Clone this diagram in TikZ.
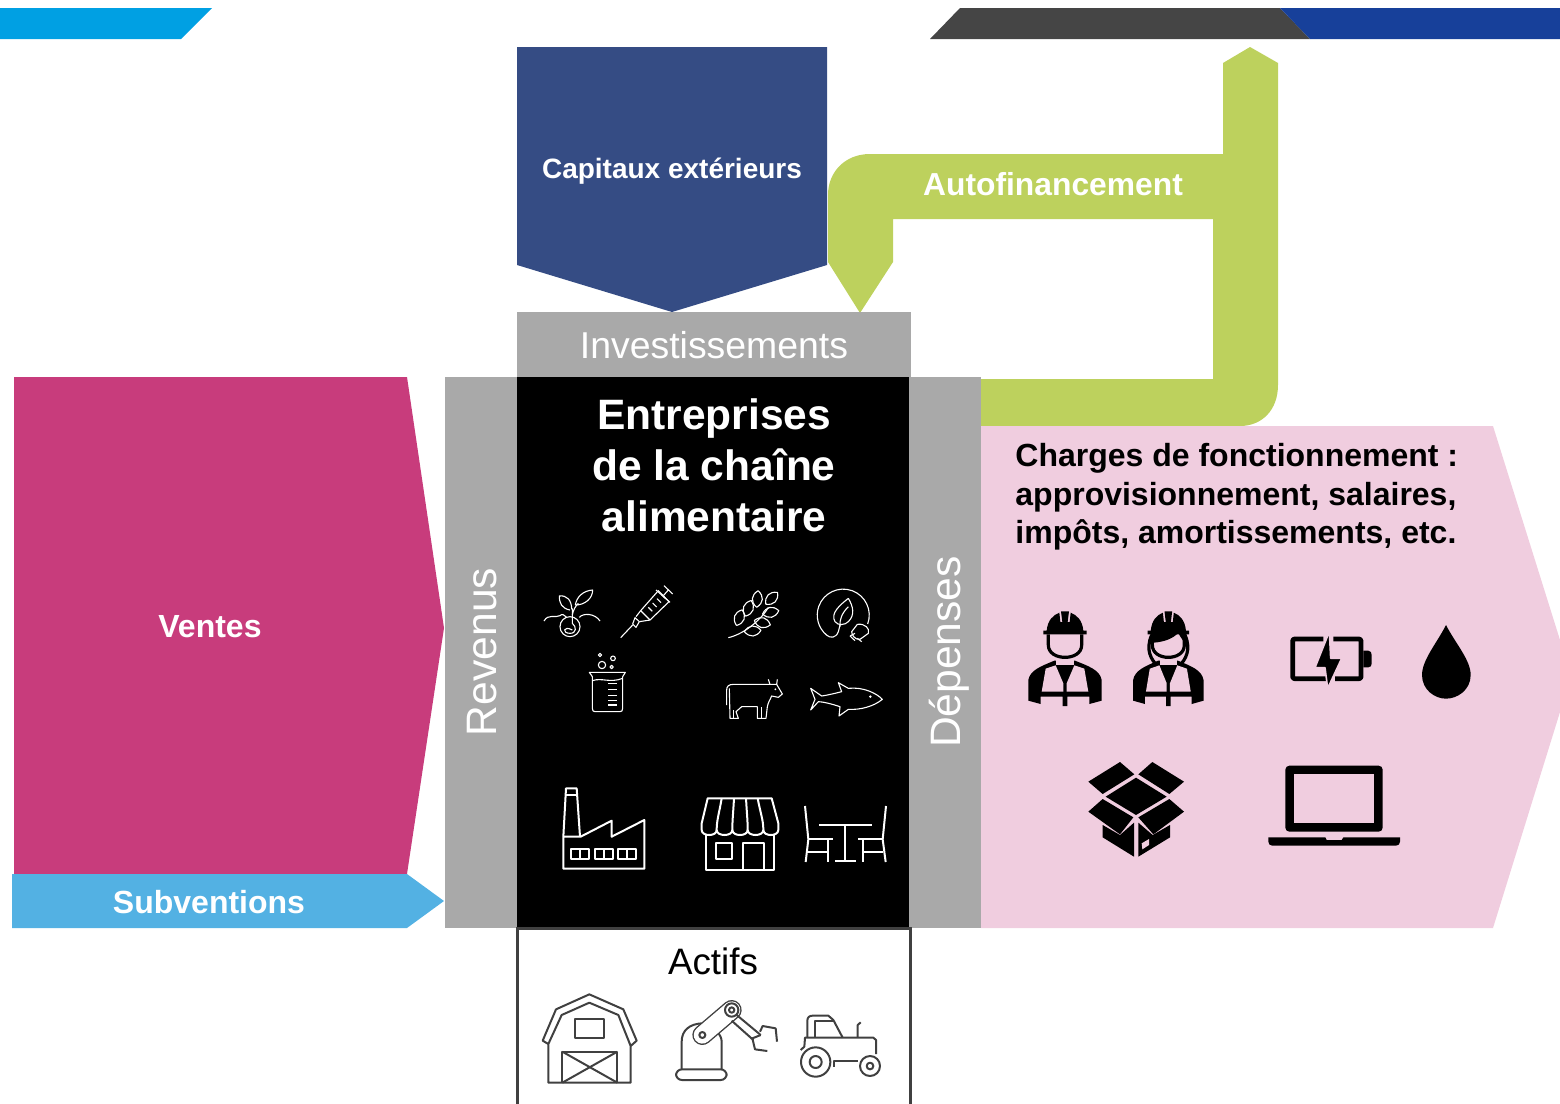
\documentclass[tikz,border=0pt]{standalone}
\usepackage{fontspec}
\setmainfont{Liberation Sans}
\definecolor{cyanbar}{HTML}{00A0E3}
\definecolor{darkbar}{HTML}{454545}
\definecolor{bluebar}{HTML}{17409A}
\definecolor{capitalblue}{HTML}{354C84}
\definecolor{selfgreen}{HTML}{BDD15D}
\definecolor{boxgray}{HTML}{A9A9A9}
\definecolor{salesred}{HTML}{C83C7C}
\definecolor{subsidyblue}{HTML}{53B1E3}
\definecolor{costpink}{HTML}{F0CDDF}
\definecolor{iconline}{HTML}{404040}
\tikzset{
    whitelabel/.style={text=white,font=\fontsize{16}{19}\selectfont\bfseries},
    graylabel/.style={text=white,font=\fontsize{21.3}{25}\selectfont},
    zoomed/.style={x=0.16667pt,y=-0.16667pt},
    leaf/.pic={\draw (-25,0) .. controls (-10,-20) and (10,-20) .. (25,0) .. controls (10,20) and (-10,20) .. (-25,0);},
    worker/.pic={
        \fill (-65,-8) -- (-55,-8) .. controls (-52,-40) and (-35,-55) .. (-17,-62) -- (-14,-34) -- (-8,-34) -- (-12,-66) -- (12,-66) -- (8,-34) -- (14,-34) -- (17,-62) .. controls (35,-55) and (52,-40) .. (55,-8) -- (65,-8) -- (65,3) -- (-65,3) -- cycle;
        \draw[line width=1.6pt] (-50,3) -- (-50,35) .. controls (-50,60) and (-25,72) .. (0,72) .. controls (25,72) and (50,60) .. (50,35) -- (50,3);
        \fill (-110,202) -- (-110,140) .. controls (-105,110) and (-70,98) .. (-32,82) -- (30,82) .. controls (70,98) and (105,110) .. (110,140) -- (110,202) -- (73,212) -- (73,190) -- (7,190) -- (7,218) -- (-7,218) -- (-7,190) -- (-73,190) -- (-73,212) -- cycle;
        \fill[costpink] (-58,106) -- (-28,96) -- (-5,150) -- (-5,175) -- (-70,175) -- cycle;
        \fill[costpink] (58,106) -- (28,96) -- (5,150) -- (5,175) -- (70,175) -- cycle;
        \fill[costpink] (-26,80) -- (26,80) -- (26,94) -- (-26,94) -- cycle;
    }
}
\begin{document}
\begin{tikzpicture}[x=0.5pt,y=-0.5pt]
    \useasboundingbox (0,0) rectangle (1560,1104);

    \fill[cyanbar] (0,8) -- (212,8) -- (181,39) -- (0,39) -- cycle;
    \fill[darkbar] (960,8) -- (1280,8) -- (1310,39) -- (930,39) -- cycle;
    \fill[bluebar] (1280,8) -- (1560,8) -- (1560,39) -- (1310,39) -- cycle;

    \fill[capitalblue] (517,47) -- (827,47) -- (827,265) -- (672,312) -- (517,265) -- cycle;
    \fill[selfgreen] (1250,47) -- (1278,63) -- (1278,385) .. controls (1278,410) and (1262,426) .. (1240,426) -- (981,426) -- (981,379) -- (1213,379) -- (1213,219) -- (893,219) -- (893,262) -- (860,313) -- (828,262) -- (828,195) .. controls (828,172) and (845,154) .. (870,154) -- (1223,154) -- (1223,63) -- cycle;

    \fill[costpink] (981,426) -- (1493,426) -- (1560,640) -- (1560,712) -- (1493,928) -- (981,928) -- cycle;
    \fill[salesred] (14,377) -- (407,377) -- (444,628) -- (407,874) -- (14,874) -- cycle;
    \fill[subsidyblue] (12,874) -- (407,874) -- (444,901) -- (407,928) -- (12,928) -- cycle;

    \fill[boxgray] (517,312) rectangle (911,377);
    \fill[boxgray] (445,377) rectangle (517,928);
    \fill[boxgray] (909,377) rectangle (981,928);
    \fill[black] (517,377) rectangle (909,928);
    \draw[iconline,line width=1.5pt] (517,1104) -- (517,928) -- (910,928) -- (910,1104);

    \node[whitelabel,font=\fontsize{14}{17}\selectfont\bfseries] (capitaux) at (672,171) {Capitaux extérieurs};
    \node[whitelabel,font=\fontsize{15.9}{19}\selectfont\bfseries] (autofinancement) at (1053,184) {Autofinancement};
    \node[text=white,font=\fontsize{18.7}{23}\selectfont] (investissements) at (714,345) {Investissements};
    \node[whitelabel] (ventes) at (210,627) {Ventes};
    \node[whitelabel] (subventions) at (209,902) {Subventions};
    \node[graylabel,rotate=90] (revenus) at (482,652) {Revenus};
    \node[graylabel,rotate=90] (depenses) at (949,652) {Dépenses};
    \node[text=white,align=center,font=\fontsize{21.25}{25.5}\selectfont\bfseries] (entreprises) at (714,465) {Entreprises\\de la chaîne\\alimentaire};
    \node[anchor=north west,inner sep=0pt,align=left,font=\fontsize{16}{19.25}\selectfont\bfseries] (charges) at (1015,443) {Charges de fonctionnement :\\approvisionnement, salaires,\\impôts, amortissements, etc.};
    \node[font=\fontsize{18.4}{22}\selectfont,text=black] (actifs) at (713,961) {Actifs};

    % white line icons, top of the black box
    \begin{scope}[shift={(520,570)},zoomed,white,line width=0.55pt,line join=round]
        \draw (150,170) circle (30);
        \draw (157,180) .. controls (130,165) and (125,190) .. (150,190) .. controls (170,190) and (170,170) .. (157,160) -- (157,115);
        \draw (72,153) .. controls (85,130) and (105,145) .. (120,137) .. controls (125,130) and (135,135) .. (140,142);
        \draw (178,142) .. controls (190,128) and (225,130) .. (240,153);
        \draw (150,120) .. controls (125,115) and (118,100) .. (118,78) .. controls (140,75) and (155,90) .. (155,118);
        \draw (166,105) .. controls (170,80) and (190,62) .. (218,60) .. controls (218,85) and (195,105) .. (166,105);
        \draw (157,135) .. controls (160,120) and (165,110) .. (175,100);

        \draw (302,203) -- (338,165);
        \draw (338,162) -- (348,172) -- (358,155) -- (345,143) -- cycle;
        \draw (348,140) -- (362,122) -- (415,62) -- (447,95) -- (390,150) -- (358,155);
        \draw (362,122) -- (390,150);
        \foreach \d in {0,1,2,3} \draw ({385+\d*13},{112-\d*13}) -- ({397+\d*13},{124-\d*13});
        \draw (430,77) -- (445,60);
        \draw (432,47) -- (458,72);
        \draw (408,60) -- (450,97);

        \draw (208,307) -- (316,307) -- (308,320) -- (308,415) .. controls (308,422) and (305,425) .. (300,425) -- (225,425) .. controls (220,425) and (217,422) .. (217,415) -- (217,320) -- cycle;
        \draw (217,332) .. controls (245,322) and (270,340) .. (308,325);
        \foreach \y in {340,358,376,392,405} \draw[line width=0.8pt] (265,\y) -- (292,\y);
        \draw (246,285) circle (11);
        \draw (279,265) circle (7);
        \draw (240,255) circle (5);
        \draw (275,291) circle (5);

        \draw (625,203) .. controls (680,190) and (730,140) .. (745,112);
        \foreach \x/\y/\a in {658/143/70,685/115/70,712/87/85,755/85/45,752/127/12,727/158/-15,698/183/5} \path (\x,\y) pic[rotate=\a] {leaf};

        \draw (1043,162) arc[start angle=-20,end angle=230,radius=13pt] .. controls (930,205) and (948,205) .. (955,185) -- (960,165);
        \draw (985,85) .. controls (1000,110) and (1005,135) .. (985,155) .. controls (975,165) and (955,168) .. (945,155) .. controls (930,130) and (960,105) .. (985,85);
        \draw (985,110) .. controls (965,130) and (958,150) .. (960,170);
        \draw (1012,163) .. controls (1035,160) and (1050,175) .. (1045,190) -- (1020,208) .. controls (1005,210) and (995,195) .. (995,185) -- cycle;
        \draw (990,198) -- (1005,212);
        \draw (1005,190) -- (990,198);
        \draw (1012,205) -- (1025,215);

        \draw (620,405) -- (620,360) .. controls (620,350) and (625,343) .. (640,343) -- (770,343) -- (787,372) -- (775,382) -- (755,378) .. controls (750,390) and (745,395) .. (742,410) -- (738,445) -- (712,445) -- (712,410) -- (665,410) -- (648,425) -- (655,445) -- (630,445) -- (628,355);
        \draw (745,328) -- (750,343);
        \draw (772,328) -- (770,343);
        \draw (725,412) -- (725,445);
        \draw (640,420) -- (640,445);
        \fill (766,358) circle (3);

        \draw (872,355) -- (905,378) .. controls (925,375) and (945,370) .. (965,365) -- (955,338) -- (985,355) .. controls (1030,350) and (1070,370) .. (1087,388) .. controls (1060,410) and (1020,420) .. (985,418) -- (957,438) -- (960,410) .. controls (930,400) and (905,395) .. (895,395) -- (872,420) -- (885,388) -- cycle;
        \fill (1051,380) circle (4);
    \end{scope}

    % white line icons, bottom of the black box
    \begin{scope}[shift={(540,770)},zoomed,white,line width=1pt,line join=round]
        \draw (70,296) -- (313,296) -- (313,150) -- (215,200) -- (215,152) -- (122,200) -- (70,200) -- cycle;
        \draw (70,200) -- (78,55) -- (110,55) -- (120,200);
        \draw (78,75) -- (110,75);
        \foreach \x in {93,164,235} {
            \draw (\x,237) rectangle ({\x+54},268);
            \draw ({\x+27},237) -- ({\x+27},268);
        }

        \draw (485,180) -- (485,160) -- (503,85) -- (695,85) -- (715,160) -- (715,180);
        \foreach \a/\b in {485/530,530/577,577/623,623/670,670/715} \draw (\a,180) .. controls (\a,200) and (\b,200) .. (\b,180);
        \foreach \a/\b in {545/530,582/577,618/623,653/670} \draw (\a,85) .. controls ({(\a+\b)/2},130) and (\b,150) .. (\b,180);
        \draw (497,192) -- (497,299) -- (702,299) -- (702,192);
        \draw (527,218) rectangle (577,268);
        \draw (610,299) -- (610,218) -- (672,218) -- (672,299);

        \draw (838,165) -- (995,165);
        \draw (916,165) -- (916,273);
        \draw (885,273) -- (948,273);
        \draw (795,108) -- (805,208) -- (797,276);
        \draw (805,208) -- (880,208);
        \draw (865,208) -- (865,276);
        \draw (803,245) -- (865,245);
        \draw (1038,108) -- (1028,208) -- (1037,276);
        \draw (955,208) -- (1028,208);
        \draw (970,208) -- (970,276);
        \draw (970,245) -- (1030,245);
    \end{scope}

    % black icons on the pink arrow
    \begin{scope}[shift={(1010,600)},zoomed,black,line join=round]
        \path (165,100) pic {worker};
        \path (475,100) pic[xscale=0.96] {worker};
        \draw[line width=1.6pt] (425,105) .. controls (405,150) and (425,180) .. (440,195);
        \draw[line width=1.6pt] (525,105) .. controls (545,150) and (525,180) .. (510,195);
        \fill (432,128) .. controls (465,125) and (490,115) .. (505,98) .. controls (510,110) and (518,120) .. (525,130) -- (530,100) -- (420,100) -- cycle;

        \draw[line width=2.4pt,rounded corners=1pt] (940,117) -- (848,117) -- (848,236) -- (950,236);
        \draw[line width=2.4pt,rounded corners=1pt] (970,117) -- (1053,117) -- (1053,236) -- (975,236);
        \fill (1060,152) -- (1075,152) .. controls (1082,152) and (1085,158) .. (1085,165) -- (1085,190) .. controls (1085,197) and (1082,202) .. (1075,202) -- (1060,202) -- cycle;
        \filldraw[draw=costpink,line width=0.8pt] (958,95) -- (915,203) -- (945,203) -- (953,265) -- (995,175) -- (962,175) -- cycle;

        \fill (1308,75) .. controls (1280,130) and (1236,180) .. (1236,225) .. controls (1236,270) and (1275,296) .. (1308,296) .. controls (1342,296) and (1382,270) .. (1382,225) .. controls (1382,180) and (1336,130) .. (1308,75) -- cycle;

        \fill (330,486) -- (373,523) -- (278,582) -- (235,545) -- cycle;
        \fill (427,486) -- (522,545) -- (478,582) -- (385,523) -- cycle;
        \fill (378,533) -- (470,590) -- (378,645) -- (287,590) -- cycle;
        \fill (278,597) -- (370,652) -- (330,703) -- (235,635) -- cycle;
        \fill (478,597) -- (522,635) -- (430,703) -- (385,652) -- cycle;
        \fill (278,675) -- (330,705) -- (372,668) -- (372,770) -- (278,712) -- cycle;
        \fill (385,668) -- (428,705) -- (480,675) -- (480,712) -- (385,770) -- cycle;
        \fill[costpink] (395,730) -- (417,717) -- (417,735) -- (397,748) -- cycle;

        \fill[rounded corners=2pt] (826,695) -- (826,497) -- (1118,497) -- (1118,695) -- cycle;
        \fill[costpink] (851,523) rectangle (1093,668);
        \fill (775,712) -- (946,712) -- (950,720) -- (995,720) -- (1000,712) -- (1170,712) -- (1170,725) .. controls (1170,732) and (1165,737) .. (1158,737) -- (787,737) .. controls (780,737) and (775,732) .. (775,725) -- cycle;
    \end{scope}

    % gray icons in the assets box
    \begin{scope}[shift={(520,980)},zoomed,iconline,line width=1pt,line join=round]
        \draw (85,192) -- (68,182) -- (108,88) -- (208,43) -- (310,88) -- (350,182) -- (332,198) -- (295,105) -- (208,68) -- (125,105) -- (85,192) -- (85,308) -- (332,308) -- (332,198);
        \draw (165,118) rectangle (252,175);
        \draw (127,308) -- (127,215) -- (292,215) -- (292,308);
        \draw (127,215) -- (292,308);
        \draw (292,215) -- (127,308);

        \draw (485,268) -- (485,185) .. controls (485,150) and (510,132) .. (545,130);
        \draw (605,268) -- (605,185) .. controls (605,175) and (600,165) .. (592,155);
        \draw[rounded corners=3pt] (468,300) -- (468,268) -- (620,268) -- (620,300) -- cycle;
        \draw[line width=10pt,line cap=round] (547,165) -- (635,90);
        \draw[white,line width=8.6pt,line cap=round] (547,165) -- (635,90);
        \draw (547,165) circle (9);
        \draw (635,90) circle (20);
        \draw (635,90) circle (8);
        \draw (650,105) -- (722,165);
        \draw (635,122) -- (700,180);
        \draw (720,155) -- (728,138) -- (767,145) -- (771,185);
        \draw (722,165) -- (697,175) -- (705,208) -- (742,213);

        \draw (887,246) circle (44);
        \draw (887,246) circle (18);
        \draw (1050,258) circle (30);
        \draw (1050,258) circle (10);
        \draw (842,210) -- (853,200) -- (855,173) -- (1060,173) -- (1068,180) -- (1068,222);
        \draw (862,173) -- (862,122) .. controls (862,112) and (868,107) .. (878,107) -- (925,107) -- (940,120) -- (968,173);
        \draw (885,173) -- (885,122) -- (940,122);
        \draw (1013,173) -- (1013,135) -- (1022,127);
        \draw (942,260) -- (942,242) -- (1015,242);
    \end{scope}
\end{tikzpicture}
\end{document}
